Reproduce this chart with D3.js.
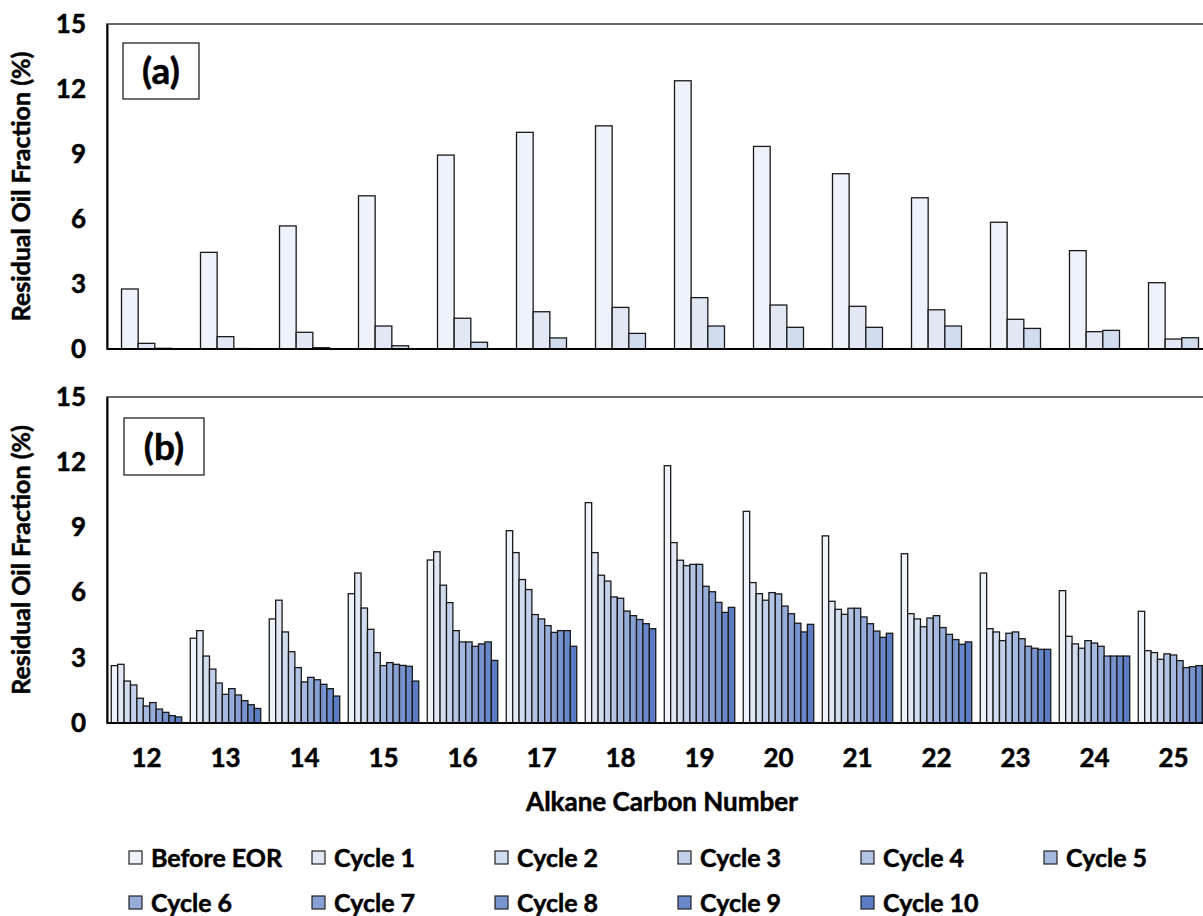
<!DOCTYPE html>
<html>
<head>
<meta charset="utf-8">
<script src="https://cdn.jsdelivr.net/npm/d3@7"></script>
<style>
  html, body { margin: 0; padding: 0; background: #fff; }
  svg { display: block; }
  text { font-family: Lato, "Open Sans", sans-serif; font-weight: 700; fill: #000;
         stroke: #000; stroke-width: 0.5px; }
</style>
</head>
<body>
<script>
// Alkane carbon numbers on the x axis
const carbonNumbers = [12, 13, 14, 15, 16, 17, 18, 19, 20, 21, 22, 23, 24, 25];

// Series names (legend order)
const seriesNames = ["Before EOR", "Cycle 1", "Cycle 2", "Cycle 3", "Cycle 4", "Cycle 5",
                     "Cycle 6", "Cycle 7", "Cycle 8", "Cycle 9", "Cycle 10"];

// Panel (a): residual oil fraction (%)
const aBeforeEOR = [2.77, 4.46, 5.68, 7.07, 8.95, 10.0, 10.3, 12.38, 9.35, 8.09, 6.98, 5.85, 4.54, 3.06];
const aCycle1    = [0.26, 0.57, 0.77, 1.06, 1.42, 1.72, 1.92, 2.37, 2.03, 1.97, 1.81, 1.37, 0.80, 0.46];
const aCycle2    = [0.03, 0.02, 0.06, 0.15, 0.31, 0.51, 0.72, 1.06, 1.00, 1.00, 1.06, 0.95, 0.86, 0.52];

// Panel (b): residual oil fraction (%)
const bBeforeEOR = [2.64, 3.90, 4.79, 5.95, 7.50, 8.85, 10.14, 11.84, 9.74, 8.61, 7.79, 6.90, 6.09, 5.14];
const bCycle1    = [2.70, 4.25, 5.65, 6.90, 7.88, 7.84, 7.84, 8.30, 6.46, 5.60, 5.03, 4.34, 3.99, 3.33];
const bCycle2    = [1.93, 3.08, 4.19, 5.29, 6.34, 6.60, 6.80, 7.49, 5.95, 5.23, 4.79, 4.19, 3.64, 3.24];
const bCycle3    = [1.75, 2.48, 3.28, 4.31, 5.54, 6.14, 6.53, 7.24, 5.65, 5.00, 4.43, 3.79, 3.44, 2.93];
const bCycle4    = [1.14, 1.84, 2.55, 3.24, 4.25, 4.99, 5.80, 7.30, 6.00, 5.28, 4.83, 4.13, 3.79, 3.18];
const bCycle5    = [0.78, 1.32, 1.89, 2.64, 3.73, 4.79, 5.74, 7.30, 5.94, 5.28, 4.94, 4.19, 3.68, 3.13];
const bCycle6    = [0.94, 1.58, 2.10, 2.78, 3.73, 4.48, 5.15, 6.29, 5.38, 4.88, 4.39, 3.88, 3.53, 2.87];
const bCycle7    = [0.64, 1.29, 1.99, 2.70, 3.53, 4.17, 4.94, 6.04, 5.03, 4.57, 4.08, 3.53, 3.08, 2.55];
const bCycle8    = [0.49, 1.03, 1.78, 2.65, 3.64, 4.25, 4.76, 5.55, 4.59, 4.23, 3.84, 3.44, 3.08, 2.59];
const bCycle9    = [0.34, 0.84, 1.58, 2.61, 3.73, 4.25, 4.57, 5.09, 4.19, 3.94, 3.62, 3.39, 3.08, 2.64];
const bCycle10   = [0.28, 0.67, 1.24, 1.93, 2.88, 3.53, 4.34, 5.32, 4.54, 4.13, 3.73, 3.39, 3.08, 2.64];

// Y axis ticks
const yTicks = [0, 3, 6, 9, 12, 15];

// Monochromatic blue palette, light to dark
const seriesColors = ["#eef2fa", "#e1e7f3", "#d2dcef", "#c3d0ea", "#b4c4e4", "#a5b8df",
                      "#96acd9", "#87a0d4", "#7894ce", "#6988c9", "#5a7cc4"];

const panelA = [aBeforeEOR, aCycle1, aCycle2];
const panelB = [bBeforeEOR, bCycle1, bCycle2, bCycle3, bCycle4, bCycle5,
                bCycle6, bCycle7, bCycle8, bCycle9, bCycle10];

const W = 1203, H = 916;
const svg = d3.select("body").append("svg").attr("width", W).attr("height", H);

const left = 107, right = 1213;
const x = d3.scaleBand().domain(carbonNumbers).range([left, right]);

function styleTicks(sel) {
  sel.selectAll("text")
    .style("font-size", "26px").style("font-family", "Lato, sans-serif")
    .style("font-weight", 700).attr("fill", "#000");
}

function drawPanel(series, top, bottom, padInner, label, labelBox) {
  const y = d3.scaleLinear().domain([0, 15]).range([bottom, top]);
  const xg = x.copy().paddingInner(padInner).paddingOuter(padInner / 2);
  const xs = d3.scaleBand().domain(d3.range(series.length)).range([0, xg.bandwidth()]);

  const g = svg.append("g");

  // plot frame
  g.append("rect")
    .attr("x", left).attr("y", top)
    .attr("width", right - left).attr("height", bottom - top)
    .attr("fill", "none").attr("stroke", "#3a3a3a").attr("stroke-width", 1.5);

  // bars
  series.forEach((vals, si) => {
    g.append("g").selectAll("rect")
      .data(carbonNumbers.map((c, i) => ({ c, v: vals[i] })))
      .join("rect")
      .attr("x", d => xg(d.c) + xs(si))
      .attr("y", d => y(d.v))
      .attr("width", xs.bandwidth())
      .attr("height", d => bottom - y(d.v))
      .attr("fill", seriesColors[si])
      .attr("stroke", "#1a1a1a")
      .attr("stroke-width", 1.3);
  });

  // y axis
  const yAxis = d3.axisLeft(y).tickValues(yTicks).tickSize(0).tickPadding(21);
  const ya = g.append("g").attr("transform", `translate(${left},0)`).call(yAxis);
  ya.select(".domain").attr("stroke", "#000").attr("stroke-width", 2);
  styleTicks(ya);

  // baseline
  g.append("line").attr("x1", left).attr("x2", right).attr("y1", bottom).attr("y2", bottom)
    .attr("stroke", "#000").attr("stroke-width", 2);

  // y axis title
  g.append("text")
    .attr("transform", `translate(30,${(top + bottom) / 2}) rotate(-90)`)
    .attr("text-anchor", "middle")
    .style("font-size", "25px")
    .text("Residual Oil Fraction (%)");

  // panel label box
  g.append("rect")
    .attr("x", labelBox[0]).attr("y", labelBox[1])
    .attr("width", labelBox[2]).attr("height", labelBox[3])
    .attr("fill", "#fff").attr("stroke", "#222").attr("stroke-width", 1.3);
  g.append("text")
    .attr("x", labelBox[0] + labelBox[2] / 2)
    .attr("y", labelBox[1] + labelBox[3] / 2 + 13)
    .attr("text-anchor", "middle")
    .style("font-size", "37px")
    .text(label);
  return y;
}

drawPanel(panelA, 24, 349, 0.367, "(a)", [123, 43, 76, 56]);
drawPanel(panelB, 397, 723, 0.108, "(b)", [124, 418, 80, 57]);

// x axis (bottom panel)
const xAxis = d3.axisBottom(x).tickSize(0).tickPadding(26);
const xa = svg.append("g").attr("transform", "translate(0,723)").call(xAxis);
xa.select(".domain").remove();
styleTicks(xa);

svg.append("text")
  .attr("x", 662).attr("y", 811)
  .attr("text-anchor", "middle")
  .style("font-size", "26px")
  .text("Alkane Carbon Number");

// legend: two rows on a shared column grid
const legendCols = [129, 312, 495, 678, 861, 1044];
const legendRows = [858, 903];
const lg = svg.append("g");
seriesNames.forEach((name, i) => {
  const lx = legendCols[i % 6], ly = legendRows[Math.floor(i / 6)];
  lg.append("rect")
    .attr("x", lx).attr("y", ly - 7).attr("width", 13).attr("height", 13)
    .attr("fill", seriesColors[i]).attr("stroke", "#222").attr("stroke-width", 1.2);
  lg.append("text")
    .attr("x", lx + 22).attr("y", ly + 9)
    .style("font-size", "25px")
    .text(name);
});
</script>
</body>
</html>
